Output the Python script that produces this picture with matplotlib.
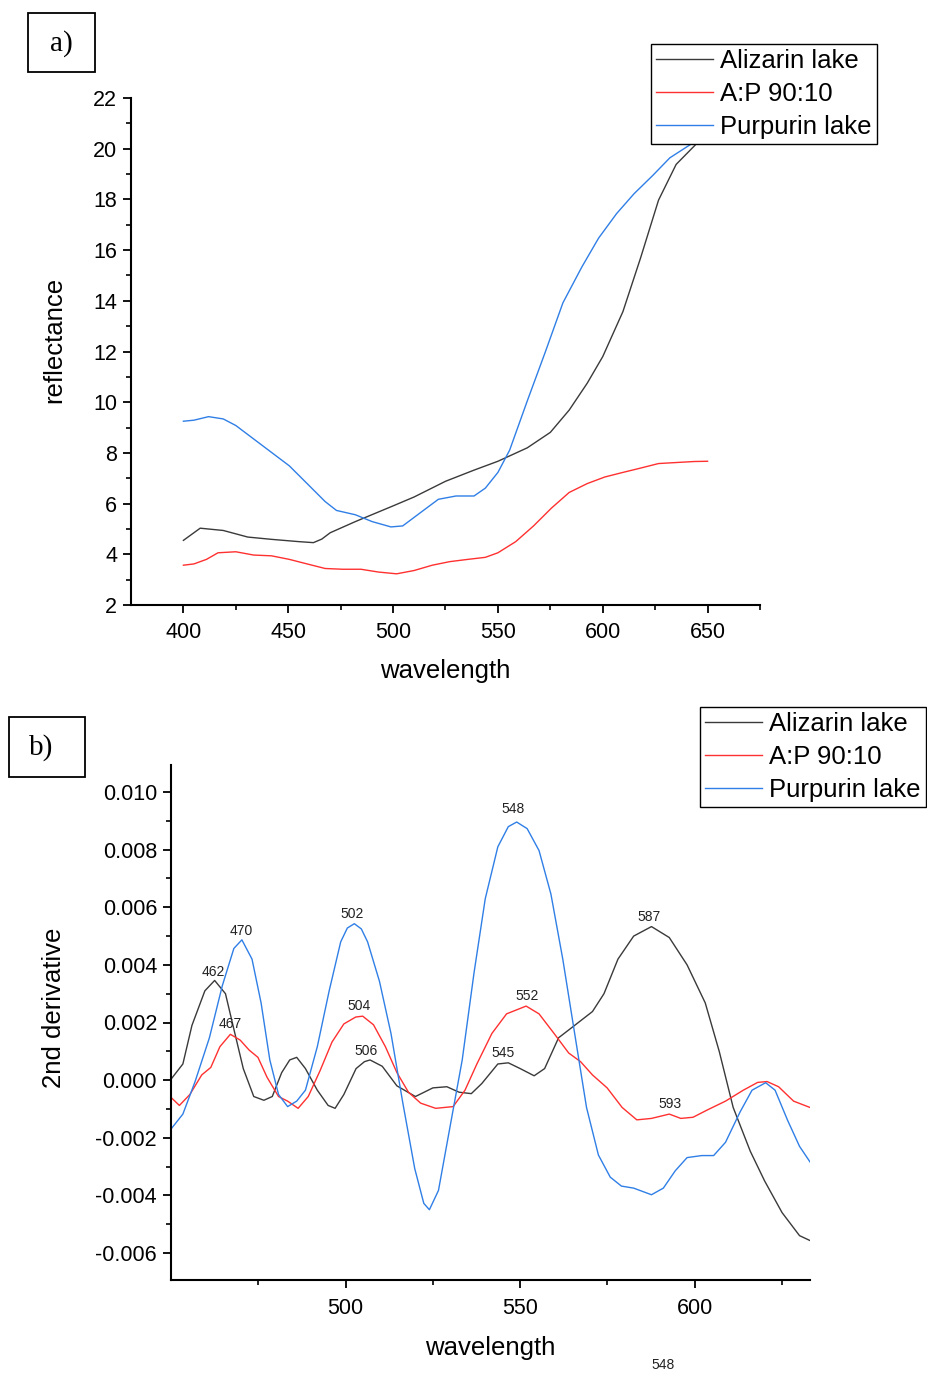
import numpy as np
import matplotlib
matplotlib.use("Agg")
import matplotlib.pyplot as plt
from matplotlib.patches import Rectangle

plt.rcParams["font.family"] = ["Liberation Sans", "DejaVu Sans"]

# ---- reflectance spectra (panel a) ----
wl_aliz = [400, 408, 419, 430.7, 442, 455, 462, 466, 470, 482, 500, 510, 525, 538.6, 550, 564,
           575, 584, 592.6, 600, 609.6, 618, 626.6, 635, 645, 650]
refl_aliz = [4.55, 5.03, 4.94, 4.68, 4.59, 4.5, 4.46, 4.6, 4.85, 5.29, 5.91, 6.26, 6.88, 7.32,
             7.67, 8.2, 8.81, 9.69, 10.75, 11.8, 13.57, 15.68, 17.97, 19.38, 20.22, 20.6]

wl_mix = [400, 405, 411, 416.5, 425, 433.5, 442, 450.5, 459, 467.6, 476, 484.7, 493, 501.7,
          510, 518.7, 527, 535.7, 544, 550, 558.5, 567, 575.5, 584, 592.6, 601, 609.6,
          618, 626.6, 635, 643.6, 650]
refl_mix = [3.57, 3.62, 3.80, 4.06, 4.10, 3.97, 3.94, 3.80, 3.62, 3.44, 3.41, 3.41, 3.30, 3.23,
            3.36, 3.57, 3.71, 3.80, 3.88, 4.06, 4.50, 5.12, 5.82, 6.44, 6.79, 7.05, 7.23,
            7.40, 7.58, 7.62, 7.66, 7.67]

wl_purp = [400, 405, 412, 419, 425, 433.5, 442, 450.5, 459, 467.6, 473, 482, 490, 499,
           504.6, 513, 521.6, 530, 538.6, 544, 550, 555.6, 564, 572.6, 581, 590, 598,
           606.6, 615, 623.8, 632, 643.6, 650]
refl_purp = [9.25, 9.29, 9.43, 9.34, 9.08, 8.55, 8.02, 7.49, 6.79, 6.08, 5.73, 5.56, 5.29, 5.08,
             5.12, 5.64, 6.17, 6.30, 6.30, 6.61, 7.23, 8.11, 10.05, 11.98, 13.92, 15.33, 16.47,
             17.44, 18.23, 18.94, 19.64, 20.26, 20.6]

# ---- second derivative spectra (panel b) ----
wl_d_aliz = [450, 453.4, 456, 459.7, 462.5, 465.6, 468, 470.7, 473.7, 476.6, 479, 481.7, 484,
             486, 488.5, 491.9, 495, 497, 499.5, 503, 505.4, 507, 510.5, 514.7, 520, 525, 529,
             532.5, 536, 539, 543.6, 546.6, 550, 554, 557, 561, 565.6, 570.7, 574, 578, 582.5,
             587.6, 592.7, 597.8, 603, 607, 611, 615.9, 620, 625, 630, 633]
d2_aliz = [0.00003, 0.00056, 0.0019, 0.0031, 0.00346, 0.0030, 0.00177, 0.0004, -0.00057, -0.0007,
           -0.00057, 0.00026, 0.0007, 0.00079, 0.0004, -0.00035, -0.00088, -0.00098, -0.0005,
           0.0004, 0.00064, 0.0007, 0.00048, -0.0002, -0.00057, -0.00027, -0.00023, -0.00042,
           -0.00047, -0.00012, 0.00056, 0.0006, 0.0004, 0.00015, 0.0004, 0.00147, 0.0019,
           0.00238, 0.0030, 0.0042, 0.0050, 0.00533, 0.00495, 0.0040, 0.00268, 0.0010,
           -0.00095, -0.00247, -0.0035, -0.0046, -0.0054, -0.00557]

wl_d_mix = [450, 452.4, 455.4, 458.8, 461.4, 464, 467, 469.8, 472.4, 474.9, 477.5, 480.8, 483.4,
            486.4, 489.3, 492.7, 496.1, 499.5, 502.9, 504.9, 508, 511.4, 514.7, 518, 521.5,
            525.8, 530.8, 534.2, 537.6, 541.9, 546.1, 551.7, 555.4, 559.7, 563.9, 567.3, 570.7,
            574.9, 579.2, 583.4, 587.6, 592.7, 596, 599.5, 603.7, 608.8, 613.9, 618, 620.7,
            624, 628.3, 633]
d2_mix = [-0.0006, -0.00088, -0.0005, 0.00018, 0.00044, 0.00116, 0.00159, 0.00139, 0.00104,
          0.00079, 0.0001, -0.00057, -0.00073, -0.00098, -0.00057, 0.00033, 0.00132, 0.00195,
          0.00219, 0.00222, 0.00192, 0.00116, 0.00026, -0.00042, -0.0008, -0.00098, -0.00092,
          -0.00035, 0.00056, 0.00162, 0.0023, 0.00257, 0.0023, 0.00162, 0.00094, 0.00064,
          0.00018, -0.00027, -0.00095, -0.00138, -0.00133, -0.00118, -0.00133, -0.00129,
          -0.00103, -0.00073, -0.00035, -0.00008, -0.00005, -0.00023, -0.00073, -0.00095]

wl_d_purp = [450, 453.4, 456.9, 461, 464.7, 468, 470.3, 473.2, 475.8, 478.3, 480.8, 483.4, 486,
             488.5, 491.9, 495.3, 498.6, 500.5, 502.5, 504.5, 506.3, 509.7, 513, 516.4, 519.8,
             522.4, 524, 526.6, 530, 533.4, 536.8, 540, 543.6, 546.6, 549, 552, 555.4, 558.8,
             562.2, 565.6, 569, 572.4, 575.8, 579, 582.5, 587.6, 591, 594.4, 597.8, 602, 605.4,
             608.8, 613, 616.4, 620.3, 623, 626.6, 630, 633]
d2_purp = [-0.0017, -0.00118, -0.00005, 0.00147, 0.00328, 0.00457, 0.00487, 0.0042, 0.00268,
           0.0007, -0.0005, -0.00092, -0.00073, -0.00035, 0.00116, 0.0031, 0.0048, 0.00528,
           0.00543, 0.00525, 0.0048, 0.00343, 0.00162, -0.0008, -0.00307, -0.00428, -0.0045,
           -0.00383, -0.00156, 0.0007, 0.00374, 0.0063, 0.0081, 0.0088, 0.00896, 0.00873,
           0.00797, 0.00646, 0.0042, 0.00162, -0.00095, -0.0026, -0.00337, -0.00368, -0.00375,
           -0.00398, -0.00375, -0.00315, -0.00269, -0.00262, -0.00262, -0.00216, -0.0011,
           -0.00035, -0.00009, -0.00035, -0.0014, -0.0023, -0.00284]

# peak wavelengths marked on each derivative curve
peaks_aliz = [462, 506, 545, 587]
peaks_mix = [467, 504, 552, 593]
peaks_purp = [470, 502, 548]

names = ["Alizarin lake", "A:P 90:10", "Purpurin lake"]
c_black, c_red, c_blue = "#3a3a3a", "#ff3030", "#2f7fe6"


def style_axes(ax, ticksize, pad):
    for s in ["top", "right"]:
        ax.spines[s].set_visible(False)
    for s in ["left", "bottom"]:
        ax.spines[s].set_linewidth(1.5)
    ax.tick_params(which="major", direction="out", length=6, width=1.3,
                   labelsize=ticksize, pad=4)
    ax.tick_params(axis="x", which="major", pad=pad)
    ax.tick_params(which="minor", direction="out", length=3.5, width=1.2)


def panel_tag(fig, x0, y0, w, h, tag, tx, ty):
    W, H = 928, 1373
    fig.patches.append(Rectangle((x0 / W, 1 - (y0 + h) / H), w / W, h / H,
                                 transform=fig.transFigure, fill=False,
                                 edgecolor="black", linewidth=1.3))
    fig.text(tx / W, 1 - ty / H, tag, ha="center", va="center", fontsize=21,
             family=["Liberation Serif", "DejaVu Serif"])


def add_legend(fig, handles, x, y):
    leg = fig.legend(handles, names, loc="upper left",
                     bbox_to_anchor=(x / 928, 1 - y / 1373), fontsize=18.5,
                     frameon=True, fancybox=False, framealpha=1, edgecolor="black",
                     borderpad=0.2, labelspacing=0.35, handlelength=2.2,
                     handletextpad=0.3, borderaxespad=0)
    leg.get_frame().set_linewidth(1.0)
    return leg


fig = plt.figure(figsize=(9.28, 13.73), dpi=100)

# ---- a) reflectance ----
ax1 = fig.add_axes([131 / 928, 1 - 605 / 1373, 629 / 928, 507 / 1373])
l1, = ax1.plot(wl_aliz, refl_aliz, color=c_black, lw=1.0)
l2, = ax1.plot(wl_mix, refl_mix, color=c_red, lw=1.0)
l3, = ax1.plot(wl_purp, refl_purp, color=c_blue, lw=1.0)
ax1.set_xlim(375, 675)
ax1.set_ylim(2, 22)
ax1.set_xticks([400, 450, 500, 550, 600, 650])
ax1.set_xticks([425, 475, 525, 575, 625, 675], minor=True)
ax1.set_yticks(np.arange(2, 23, 2))
ax1.set_yticks(np.arange(3, 22, 2), minor=True)
style_axes(ax1, 15.5, 6)
ax1.set_xlabel("wavelength", fontsize=18.5, labelpad=12)
ax1.set_ylabel("reflectance", fontsize=18.5)
ax1.yaxis.set_label_coords(-0.103, 0.523)
add_legend(fig, [l1, l2, l3], 651, 44)
panel_tag(fig, 28, 13, 67, 59, "a)", 61, 44)

# ---- b) second derivative ----
ax2 = fig.add_axes([171 / 928, 1 - 1280 / 1373, 639 / 928, 515 / 1373])
m1, = ax2.plot(wl_d_aliz, d2_aliz, color=c_black, lw=1.0)
m2, = ax2.plot(wl_d_mix, d2_mix, color=c_red, lw=1.0)
m3, = ax2.plot(wl_d_purp, d2_purp, color=c_blue, lw=1.0)
ax2.set_xlim(450, 633)
ax2.set_ylim(-0.00694, 0.01094)
ax2.set_xticks([500, 550, 600])
ax2.set_xticks([475, 525, 575, 625], minor=True)
ax2.set_yticks(np.arange(-0.006, 0.0101, 0.002))
ax2.set_yticks(np.arange(-0.005, 0.0101, 0.002), minor=True)
ax2.yaxis.set_major_formatter(matplotlib.ticker.FormatStrFormatter("%.3f"))
style_axes(ax2, 15.5, 7)
ax2.set_xlabel("wavelength", fontsize=18.5, labelpad=12)
ax2.set_ylabel("2nd derivative", fontsize=18.5)
ax2.yaxis.set_label_coords(-0.164, 0.528)

for peaks, xs, ys in [(peaks_aliz, wl_d_aliz, d2_aliz),
                      (peaks_mix, wl_d_mix, d2_mix),
                      (peaks_purp, wl_d_purp, d2_purp)]:
    for p in peaks:
        y = np.interp(p, xs, ys)
        dy = 11 if p == 548 else 7.5
        ax2.annotate(str(p), xy=(p, y), xytext=(0, dy), textcoords="offset points",
                     ha="center", va="center", fontsize=10, color="#222222")

add_legend(fig, [m1, m2, m3], 700, 707)
panel_tag(fig, 9, 717, 76, 60, "b)", 41, 748)

fig.text(663 / 928, 1 - 1365 / 1373, "548", ha="center", va="center",
         fontsize=10, color="#222222")

fig.savefig("out.png", dpi=100)
